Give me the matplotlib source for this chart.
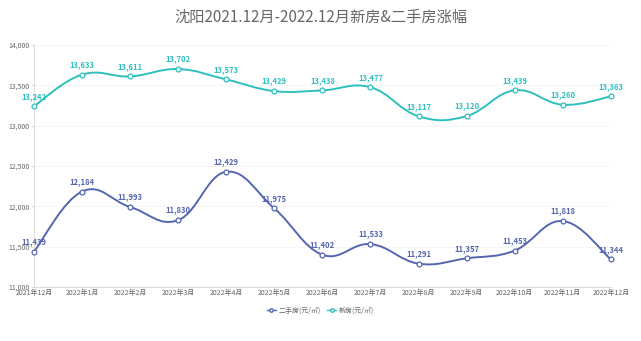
import numpy as np
import matplotlib
matplotlib.use('Agg')
import matplotlib.pyplot as plt
from matplotlib.path import Path
from matplotlib.patches import PathPatch
from matplotlib.lines import Line2D

plt.rcParams['font.family'] = ['Noto Sans CJK SC', 'DejaVu Sans']

months = ['2021年12月', '2022年1月', '2022年2月', '2022年3月', '2022年4月', '2022年5月',
          '2022年6月', '2022年7月', '2022年8月', '2022年9月', '2022年10月', '2022年11月', '2022年12月']
second_hand = [11439, 12184, 11993, 11830, 12429, 11975, 11402, 11533, 11291, 11357, 11453, 11818, 11344]
new_house = [13242, 13633, 13611, 13702, 13573, 13429, 13438, 13477, 13117, 13120, 13439, 13260, 13363]
yticks = [11000, 11500, 12000, 12500, 13000, 13500, 14000]

c_second = '#5566b0'
c_new = '#2fbfbf'


# smooth bezier line through the points (catmull-rom style)
def smooth_path(xs, ys, s=0.2):
    pts = np.column_stack([xs, ys]).astype(float)
    n = len(pts)
    verts = [pts[0]]
    codes = [Path.MOVETO]
    for i in range(n - 1):
        p0 = pts[i - 1] if i > 0 else pts[i]
        p1 = pts[i]
        p2 = pts[i + 1]
        p3 = pts[i + 2] if i + 2 < n else pts[i + 1]
        verts += [p1 + (p2 - p0) * s, p2 - (p3 - p1) * s, p2]
        codes += [Path.CURVE4] * 3
    return Path(verts, codes)


fig = plt.figure(figsize=(6.41, 3.41), dpi=100)
ax = fig.add_axes([0.053, 0.158, 0.9, 0.71])
ax.set_xlim(0, 12)
ax.set_ylim(11000, 14000)

x = np.arange(len(months))
for vals, col in [(new_house, c_new), (second_hand, c_second)]:
    ax.add_patch(PathPatch(smooth_path(x, vals), fill=False, edgecolor=col, lw=1.4,
                           zorder=3, clip_on=False))
    ax.plot(x, vals, 'o', ms=3.5, mfc='white', mec=col, mew=0.9, zorder=4, clip_on=False)
    for xi, v in zip(x, vals):
        ax.annotate(f'{v:,}', (xi, v), xytext=(0, 4), textcoords='offset points',
                    ha='center', va='bottom', fontsize=5.5, color=col, fontweight='bold', zorder=5)

ax.set_yticks(yticks)
ax.set_yticklabels([f'{t:,}' for t in yticks])
ax.set_xticks(x)
ax.set_xticklabels(months)
ax.tick_params(axis='both', labelsize=5, colors='#666666', length=0, pad=1)
ax.tick_params(axis='y', length=2, color='#dddddd')
ax.grid(axis='y', color='#f3f3f3', lw=0.6)
ax.set_axisbelow(True)
for sp in ['top', 'right']:
    ax.spines[sp].set_visible(False)
for sp in ['left', 'bottom']:
    ax.spines[sp].set_color('#dddddd')
    ax.spines[sp].set_linewidth(0.8)

fig.suptitle('沈阳2021.12月-2022.12月新房&二手房涨幅', y=0.975, fontsize=11, color='#666666')

handles = [Line2D([], [], color=c_second, marker='o', ms=2.5, mfc='white', lw=1),
           Line2D([], [], color=c_new, marker='o', ms=2.5, mfc='white', lw=1)]
fig.legend(handles, ['二手房(元/㎡)', '新房(元/㎡)'], loc='center', bbox_to_anchor=(0.5, 0.09),
           ncol=2, frameon=False, fontsize=5, labelcolor='#666666', handlelength=1.2,
           handletextpad=0.4, columnspacing=1.0)

fig.savefig('out.png', dpi=100)
